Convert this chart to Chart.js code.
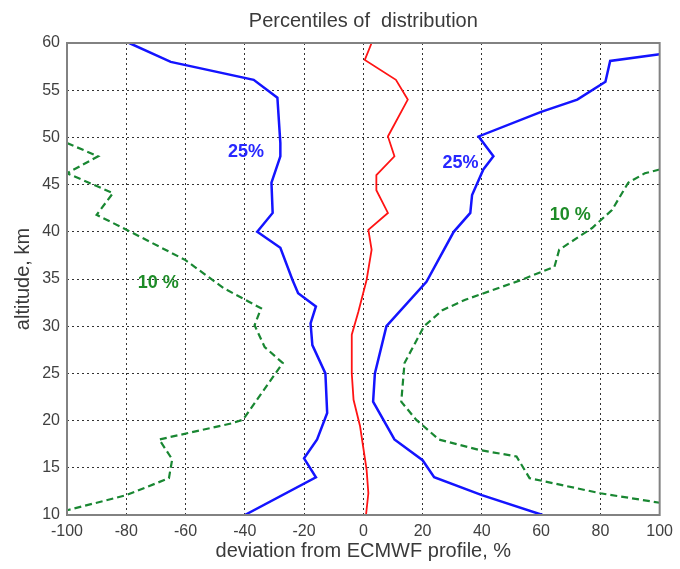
<!DOCTYPE html>
<html>
<head>
<meta charset="utf-8">
<script src="https://cdn.jsdelivr.net/npm/chart.js@4/dist/chart.umd.min.js"></script>
<style>
  body { margin: 0; background: #fff; }
  #wrap { width: 680px; height: 569px; }
</style>
</head>
<body>
<div id="wrap"><canvas id="chart"></canvas></div>
<script>
// altitude (km) and deviation (%) for each percentile curve
const blueLeftAlt = [60, 58, 56.1, 54.2, 49.4, 48, 45.2, 42, 40, 38.3, 34.9, 33.5, 32.1, 30.3, 28, 25, 20.8, 18, 16, 14, 10];
const blueLeftDev = [-79, -65, -37, -29, -28, -28, -31, -30.6, -35.8, -28, -23.9, -22, -16, -17.8, -17.2, -12.8, -12.2, -15.6, -20, -16, -40];

const medianAlt = [60, 58.2, 56.1, 54, 50.1, 48, 46, 44.4, 42, 40.2, 38.1, 34.9, 31.5, 29.1, 25, 22.2, 19.4, 14.8, 12.3, 10];
const medianDev = [2.8, 0.5, 11, 15, 8.3, 10.5, 4.4, 4.4, 8.3, 1.7, 2.8, 1.1, -1.7, -3.9, -3.9, -3.3, -1.1, 1.1, 1.7, 0.9];

const blueRightAlt = [58.8, 58.1, 55.9, 54, 52.7, 50.1, 48, 46.6, 43.9, 42, 40, 34.7, 30, 25, 22, 18, 15.8, 14, 12.1, 10];
const blueRightDev = [100, 83.3, 81.7, 72.2, 60, 38.9, 43.9, 40.5, 36.7, 36.1, 30.5, 21.3, 7.8, 3.9, 3.3, 10.5, 20, 23.9, 40, 60.5];

const greenLeftAlt = [49.4, 48, 46.2, 44.1, 41.8, 40.4, 37, 34, 31.9, 30.1, 27.8, 26.1, 20.1, 19.7, 18, 15.9, 13.9, 12.1, 10.5];
const greenLeftDev = [-100, -89.5, -100, -84.5, -90, -81.1, -60, -47, -34.5, -36.7, -33.3, -27.2, -40.6, -44.5, -68.9, -64.5, -65.6, -80, -100];

const greenRightAlt = [46.6, 46.2, 45.2, 42.3, 40.4, 38.1, 36.3, 34.9, 32.8, 31.7, 30, 26.1, 22, 20.1, 18, 16.9, 16.2, 13.9, 12.3, 11.3];
const greenRightDev = [100, 95, 89.4, 83.9, 77.2, 66.1, 64.5, 53.3, 34.4, 26.7, 20.5, 13.9, 12.8, 17.8, 25.5, 38.9, 51.7, 56.1, 80, 100];

const xTicks = [-100, -80, -60, -40, -20, 0, 20, 40, 60, 80, 100];
const yTicks = [10, 15, 20, 25, 30, 35, 40, 45, 50, 55, 60];

// curve labels: text, deviation, altitude
const notes = [
  ['25%', -39.6, 48.5, 'rgb(40,40,255)'],
  ['25%', 32.8, 47.3, 'rgb(40,40,255)'],
  ['10 %', -69.2, 34.6, 'rgb(30,140,40)'],
  ['10 %', 69.8, 41.8, 'rgb(30,140,40)']
];

const BLUE = 'rgb(20,20,255)';
const RED = 'rgb(255,20,20)';
const GREEN = 'rgb(25,135,50)';

function pts(dev, alt) {
  return dev.map((d, i) => ({ x: d, y: alt[i] }));
}

function curve(dev, alt, color, width, dash) {
  return {
    data: pts(dev, alt),
    borderColor: color,
    borderWidth: width,
    borderDash: dash || [],
    pointRadius: 0,
    tension: 0,
    fill: false
  };
}

const frameAndText = {
  id: 'frameAndText',
  afterDatasetsDraw(chart) {
    const { ctx, chartArea: a, scales } = chart;
    ctx.save();
    ctx.strokeStyle = 'rgb(130,130,130)';
    ctx.lineWidth = 2;
    ctx.strokeRect(a.left, a.top, a.right - a.left, a.bottom - a.top);

    ctx.font = 'bold 18px Arial, "Liberation Sans"';
    ctx.textAlign = 'center';
    ctx.textBaseline = 'middle';
    notes.forEach(([t, x, y, c]) => {
      ctx.fillStyle = c;
      ctx.fillText(t, scales.x.getPixelForValue(x), scales.y.getPixelForValue(y));
    });

    ctx.fillStyle = '#3a3a3a';
    ctx.font = '20px Arial, "Liberation Sans"';
    ctx.fillText('Percentiles of  distribution', (a.left + a.right) / 2, 21);
    ctx.restore();
  }
};

const gridOpts = { color: '#333', drawTicks: false, lineWidth: 1 };
const borderOpts = { display: false, dash: [2, 3] };

const ctx = document.getElementById('chart').getContext('2d');

const chart = new Chart(ctx, {
  type: 'line',
  data: {
    datasets: [
      curve(greenLeftDev, greenLeftAlt, GREEN, 2.2, [7, 4]),
      curve(greenRightDev, greenRightAlt, GREEN, 2.2, [7, 4]),
      curve(blueLeftDev, blueLeftAlt, BLUE, 2.5),
      curve(blueRightDev, blueRightAlt, BLUE, 2.5),
      curve(medianDev, medianAlt, RED, 1.8)
    ]
  },
  options: {
    responsive: true,
    maintainAspectRatio: false,
    animation: false,
    layout: { padding: { top: 43, right: 12, left: 0, bottom: 0 } },
    plugins: {
      legend: { display: false },
      tooltip: { enabled: false }
    },
    scales: {
      x: {
        type: 'linear',
        min: -100,
        max: 100,
        afterBuildTicks: s => { s.ticks = xTicks.map(v => ({ value: v })); },
        afterFit: s => { s.height = 54; },
        border: borderOpts,
        grid: gridOpts,
        ticks: { color: '#404040', font: { size: 16, family: 'Arial' }, padding: 7, maxRotation: 0 },
        title: {
          display: true,
          text: 'deviation from ECMWF profile, %',
          color: '#3a3a3a',
          font: { size: 20, family: 'Arial' },
          padding: { top: 0, bottom: 6 }
        }
      },
      y: {
        type: 'linear',
        min: 10,
        max: 60,
        afterBuildTicks: s => { s.ticks = yTicks.map(v => ({ value: v })); },
        afterFit: s => { s.width = 67; },
        border: borderOpts,
        grid: gridOpts,
        ticks: { color: '#404040', font: { size: 16, family: 'Arial' }, padding: 7 },
        title: {
          display: true,
          text: 'altitude, km',
          color: '#3a3a3a',
          font: { size: 20, family: 'Arial' },
          padding: { top: 11, bottom: 0 }
        }
      }
    }
  },
  plugins: [frameAndText]
});
</script>
</body>
</html>
